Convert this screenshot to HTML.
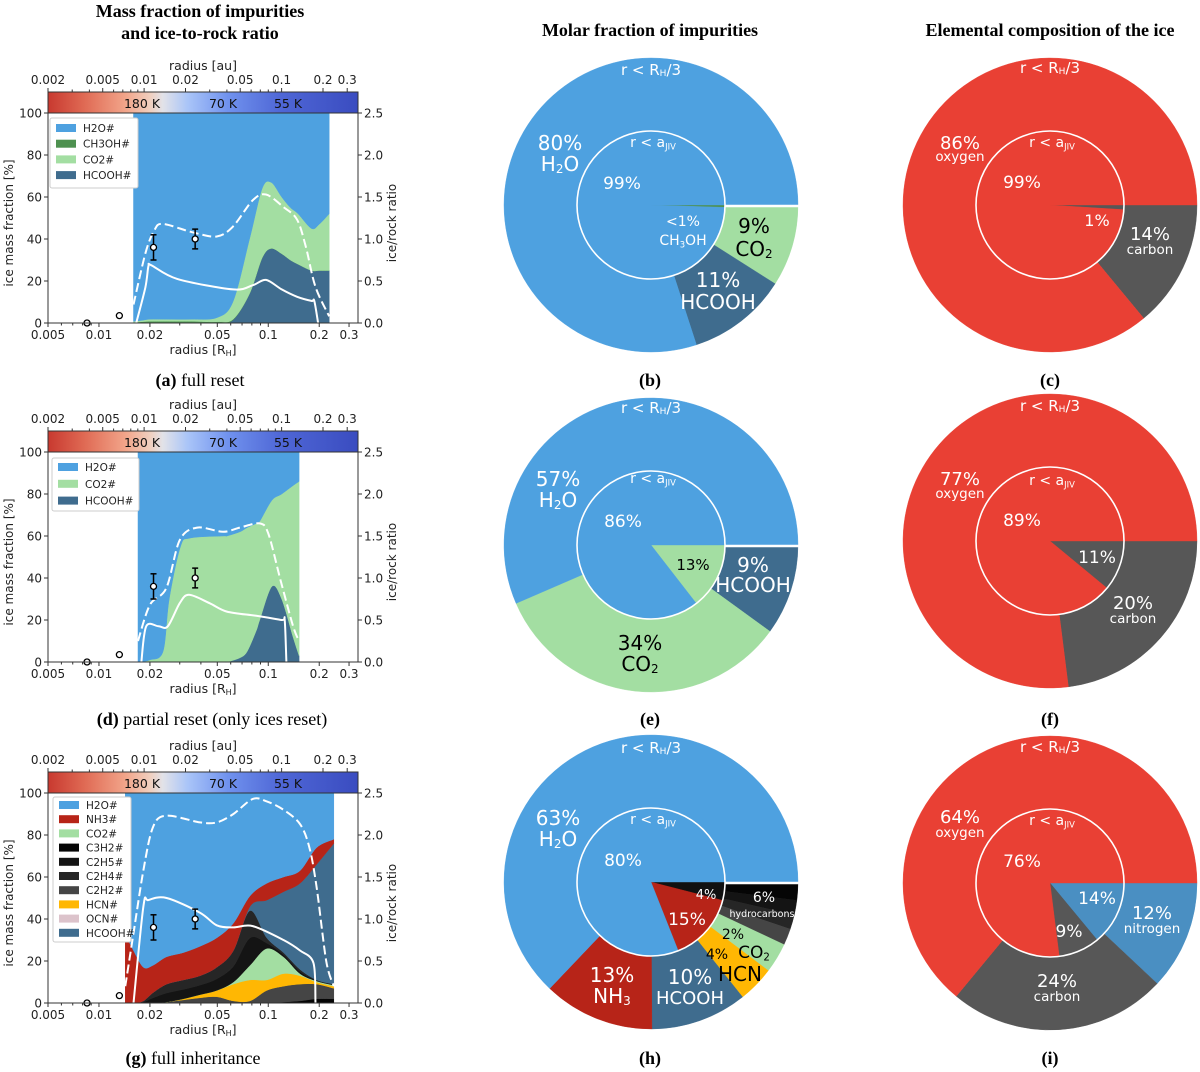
<!DOCTYPE html>
<html><head><meta charset="utf-8">
<style>
html,body{margin:0;padding:0;background:#fff;}
svg{display:block;}
text{font-family:"DejaVu Sans","Liberation Sans",sans-serif;}
.serif{font-family:"Liberation Serif",serif;}
</style></head>
<body>
<svg id="fig" xmlns="http://www.w3.org/2000/svg" width="1200" height="1072" viewBox="0 0 1200 1072">
<defs>
<linearGradient id="cbar" x1="0" x2="1" y1="0" y2="0">
<stop offset="0" stop-color="#c8392f"/><stop offset="0.12" stop-color="#e06b55"/><stop offset="0.25" stop-color="#f2a58a"/><stop offset="0.33" stop-color="#f0cfbf"/><stop offset="0.37" stop-color="#e2e2e8"/><stop offset="0.45" stop-color="#aac5f8"/><stop offset="0.58" stop-color="#7092ee"/><stop offset="0.75" stop-color="#4f67d6"/><stop offset="1" stop-color="#3a4cc0"/>
</linearGradient>
</defs>
<g id="titles">
<text class="serif" x="200" y="17" font-size="18" font-weight="bold" text-anchor="middle">Mass fraction of impurities</text>
<text class="serif" x="200" y="39" font-size="18" font-weight="bold" text-anchor="middle">and ice-to-rock ratio</text>
<text class="serif" x="650" y="36" font-size="18" font-weight="bold" text-anchor="middle">Molar fraction of impurities</text>
<text class="serif" x="1050" y="36" font-size="18" font-weight="bold" text-anchor="middle">Elemental composition of the ice</text>
<text class="serif" x="200" y="386" font-size="18" text-anchor="middle"><tspan font-weight="bold">(a)</tspan> full reset</text>
<text class="serif" x="650" y="386" font-size="18" font-weight="bold" text-anchor="middle">(b)</text>
<text class="serif" x="1050" y="386" font-size="18" font-weight="bold" text-anchor="middle">(c)</text>
<text class="serif" x="212" y="725" font-size="18" text-anchor="middle"><tspan font-weight="bold">(d)</tspan> partial reset (only ices reset)</text>
<text class="serif" x="650" y="725" font-size="18" font-weight="bold" text-anchor="middle">(e)</text>
<text class="serif" x="1050" y="725" font-size="18" font-weight="bold" text-anchor="middle">(f)</text>
<text class="serif" x="193" y="1064" font-size="18" text-anchor="middle"><tspan font-weight="bold">(g)</tspan> full inheritance</text>
<text class="serif" x="650" y="1064" font-size="18" font-weight="bold" text-anchor="middle">(h)</text>
<text class="serif" x="1050" y="1064" font-size="18" font-weight="bold" text-anchor="middle">(i)</text>
</g>
</svg>
<script>
// ---------- Observations ----------
const obsR = [0.0085, 0.0132, 0.021, 0.037];
const obsV = [0, 3.5, 36, 40];
const obsErr = [0, 0, 6, 4.7];
// ---------- Panel a ----------
const aR = [0.016,0.018,0.02,0.025,0.035,0.05,0.062,0.0775,0.092,0.104,0.12,0.135,0.15,0.18,0.2,0.229];
const aHCOOH = [0,0,0,0,0,0,1.5,14,31,35.5,33,30,28,25,25,25];
const aCH3OH = [0.3,0.6,0.8,0.8,0.8,0.6,0.3,0,0,0,0,0,0,0,0,0];
const aCO2 = [0.5,0.7,1,1,1,2,8.5,26,33,31.5,27,25,24,20,22,27];
const aH2O = [99.2,98.7,98.2,98.2,98.2,97.4,89.7,60,36,33,40,45,48,55,53,48];
const aDashR = [0.016,0.0188,0.0212,0.0238,0.0357,0.0496,0.062,0.0808,0.097,0.123,0.148,0.167,0.19,0.229];
const aDashV = [0.22,0.83,1.1,1.18,1.08,1.03,1.15,1.46,1.53,1.38,1.23,0.9,0.43,0.08];
const aSolR = [0.0166,0.0188,0.0196,0.0204,0.029,0.062,0.081,0.097,0.12,0.148,0.18,0.187,0.197];
const aSolV = [0,17,27,27.5,21,16,18,20.5,16,12.5,10.5,10.5,0];
// ---------- Panel d ----------
const dR = [0.017,0.02,0.0239,0.026,0.0303,0.0345,0.054,0.057,0.068,0.075,0.085,0.089,0.105,0.12,0.14,0.152];
const dHCOOH = [0,0,0,0,0,0,0,0,2,5,15,20,36,30,12,3];
const dCO2 = [0,1,5,30,55,59,60,60,60,59,51,47,41,50,72,83];
const dH2O = [100,99,95,70,45,41,40,40,38,36,34,33,23,20,16,14];
const dDashR = [0.017,0.02,0.025,0.03,0.038,0.054,0.068,0.089,0.1,0.118,0.14,0.152];
const dDashV = [0.25,0.68,0.88,1.45,1.6,1.55,1.6,1.65,1.53,0.98,0.43,0.25];
const dSolR = [0.0178,0.019,0.0225,0.0255,0.03,0.034,0.045,0.057,0.085,0.12,0.125,0.128];
const dSolV = [0,17,17,17,28,32,28,24,22,20,20,0];
// ---------- Panel g ----------
const gR = [0.0143,0.016,0.0183,0.0209,0.0251,0.0315,0.0395,0.0496,0.0622,0.078,0.098,0.123,0.154,0.193,0.244];
const gC3H2 = [0,0,0,0,0,0,0,0,0,0,0,0.5,1,2,2];
const gC2H2 = [0,0,0,0,0.5,1.5,2.5,3,1,1,6,7.5,8,7,5];
const gHCN = [0,0,0,0,0,0.5,1.5,3,8,10,5,6,4,1,1];
const gCO2 = [0,0,0,0,0,0,0,0,1,7,15,8,1,0.5,0.5];
const gC2H5 = [0,0,0.5,2.5,4.25,4.5,4.5,5.5,7.5,13,2.5,1,1,0.25,0.25];
const gC2H4 = [0,0,0.5,2.5,4.25,4.5,4.5,5.5,7.5,13,2.5,1,1,0.25,0.25];
const gHCOOH = [0,0,0,0,0,0,0,0,0,2,18,29,41,55,67];
const gNH3 = [33,25,16,13,13,13,14,14,13,5,8,7,6,8,2];
const gH2O = [67,75,83,82,78,76,73,69,62,49,43,40,37,26,22];
const gDashR = [0.0143,0.016,0.0183,0.0209,0.0251,0.0395,0.0496,0.0622,0.081,0.098,0.123,0.154,0.175,0.193,0.22,0.244];
const gDashV = [0.2,0.83,1.58,2.1,2.23,2.15,2.15,2.25,2.43,2.4,2.3,2.13,1.85,1.38,0.5,0.2];
const gSolR = [0.016,0.0183,0.0196,0.0251,0.0395,0.0496,0.0622,0.081,0.123,0.154,0.185,0.19];
const gSolV = [0,46,49,50,43,37,36,36.6,30,25,19,0];
// ---------- Pies ----------
const bOuterLabels = ["CO2","HCOOH","H2O"]; const bOuter = [9,11,80];
const bInnerLabels = ["CH3OH","H2O"]; const bInner = [0.5,99.5];
const cOuterLabels = ["carbon","oxygen"]; const cOuter = [14,86];
const cInnerLabels = ["carbon","oxygen"]; const cInner = [1,99];
const eOuterLabels = ["HCOOH","CO2","H2O"]; const eOuter = [10,33.5,56.5];
const eInnerLabels = ["CO2","H2O"]; const eInner = [14.5,85.5];
const fOuterLabels = ["carbon","oxygen"]; const fOuter = [23,77];
const fInnerLabels = ["carbon","oxygen"]; const fInner = [11,89];
const hOuterLabels = ["C3H2","C2H5","C2H4","C2H2","CO2","HCN","HCOOH","NH3","H2O"]; const hOuter = [2,1.6,1.6,1.8,3.3,4,10.6,12.2,62.9];
const hInnerLabels = ["hydrocarbons","NH3","H2O"]; const hInner = [4,15,81];
const iOuterLabels = ["nitrogen","carbon","oxygen"]; const iOuter = [12,24,64];
const iInnerLabels = ["nitrogen","carbon","oxygen"]; const iInner = [14,9,77];

const COL = {H2O:"#4ea1e0",CH3OH:"#4e9150",CO2:"#a3dea2",HCOOH:"#3f6c8e",NH3:"#b72418",C3H2:"#050505",C2H5:"#141414",C2H4:"#262626",C2H2:"#454545",HCN:"#ffb703",OCN:"#dcc3cb",hydrocarbons:"#111111",oxygen:"#e94034",carbon:"#575757",nitrogen:"#4a8fc2"};

const NS="http://www.w3.org/2000/svg";
const svg=document.getElementById('fig');
function mk(tag,attrs,parent){const e=document.createElementNS(NS,tag);for(const k in attrs)e.setAttribute(k,attrs[k]);(parent||svg).appendChild(e);return e;}
function txt(x,y,s,size,anchor,parent,fill){const t=mk('text',{x:x,y:y,'font-size':size,'text-anchor':anchor||'middle',fill:fill||'#000'},parent);t.textContent=s;return t;}

const X0=48,X1=358,PXD=169.3;
function rx(r){return X0+(Math.log10(r)-Math.log10(0.005))*PXD;}
function auX(a){return X0+(Math.log10(a)-Math.log10(0.002))*137.5;}
// smooth curve segments through points (Catmull-Rom -> bezier), returns path continuing from pts[0]
function smoothSeg(pts){
  let d='';
  for(let i=0;i<pts.length-1;i++){
    const p0=pts[Math.max(i-1,0)],p1=pts[i],p2=pts[i+1],p3=pts[Math.min(i+2,pts.length-1)];
    const t=0.16;
    const c1=[p1[0]+(p2[0]-p0[0])*t,p1[1]+(p2[1]-p0[1])*t];
    const c2=[p2[0]-(p3[0]-p1[0])*t,p2[1]-(p3[1]-p1[1])*t];
    d+='C'+c1[0].toFixed(1)+','+c1[1].toFixed(1)+' '+c2[0].toFixed(1)+','+c2[1].toFixed(1)+' '+p2[0].toFixed(1)+','+p2[1].toFixed(1);
  }
  return d;
}

function drawPanel(id,top,R,layers,dashR,dashV,solR,solV,legendRows,legendBox){
  const g=mk('g',{});
  
  
  const yv=v=>top+210-v*2.1;
  let base=R.map(()=>0);
  layers.forEach(L=>{
    const tops=base.map((b,i)=>b+L.v[i]);
    const up=R.map((r,i)=>[rx(r),yv(tops[i])]);
    const dn=R.map((r,i)=>[rx(r),yv(base[i])]).reverse();
    const d='M'+up[0][0].toFixed(1)+','+up[0][1].toFixed(1)+smoothSeg(up)+'L'+dn[0][0].toFixed(1)+','+dn[0][1].toFixed(1)+smoothSeg(dn)+'Z';
    const p=mk('path',{d:d,fill:COL[L.n],stroke:COL[L.n],'stroke-width':0.5},g);
    
    
    base=tops;
  });
  const dp=dashR.map((r,i)=>[rx(r),yv(dashV[i]*40)]);
  const dl=mk('path',{d:'M'+dp[0][0]+','+dp[0][1]+smoothSeg(dp),fill:'none',stroke:'#fff','stroke-width':2,'stroke-dasharray':'9,4'},g);
  
  
  const sp=solR.map((r,i)=>[rx(r),yv(solV[i])]);
  const sl=mk('path',{d:'M'+sp[0][0]+','+sp[0][1]+smoothSeg(sp),fill:'none',stroke:'#fff','stroke-width':2},g);
  
  
  obsR.forEach((r,i)=>{
    const x=rx(r),y=yv(obsV[i]);
    if(obsErr[i]>0){
      const e1=yv(obsV[i]+obsErr[i]),e2=yv(obsV[i]-obsErr[i]);
      mk('line',{x1:x,x2:x,y1:e1,y2:e2,stroke:'#000','stroke-width':1.5},g);
      mk('line',{x1:x-3,x2:x+3,y1:e1,y2:e1,stroke:'#000','stroke-width':1.5},g);
      mk('line',{x1:x-3,x2:x+3,y1:e2,y2:e2,stroke:'#000','stroke-width':1.5},g);
    }
    const c=mk('circle',{cx:x,cy:y,r:3,fill:'#fff',stroke:'#000','stroke-width':1.3},g);
    
    
  });
  mk('rect',{x:X0,y:top,width:X1-X0,height:210,fill:'none',stroke:'#333','stroke-width':1},g);
  const cb=mk('rect',{x:X0,y:top-21,width:X1-X0,height:21,fill:'url(#cbar)',stroke:'#333','stroke-width':1},g);
  
  
  [["180 K",142],["70 K",223],["55 K",288]].forEach(t=>{txt(t[1],top-5,t[0],12.5,'middle',g,'#111');});
  const maj=[0.005,0.01,0.02,0.05,0.1,0.2,0.3];
  const majL=["0.005","0.01","0.02","0.05","0.1","0.2","0.3"];
  maj.forEach((m,i)=>{const x=rx(m);mk('line',{x1:x,x2:x,y1:top+210,y2:top+214,stroke:'#333'},g);txt(x,top+226,majL[i],12,'middle',g,'#222');});
  [0.006,0.007,0.008,0.009,0.03,0.04,0.06,0.07,0.08,0.09].forEach(m=>{const x=rx(m);mk('line',{x1:x,x2:x,y1:top+210,y2:top+212.5,stroke:'#333'},g);});
  const xl=txt(203,top+241,'radius [R',12.5,'middle',g,'#222');
  const sub=mk('tspan',{'font-size':8,dy:2},xl);sub.textContent='H';
  const sub2=mk('tspan',{dy:-2},xl);sub2.textContent=']';
  
  
  const am=[0.002,0.005,0.01,0.02,0.05,0.1,0.2,0.3];
  const amL=["0.002","0.005","0.01","0.02","0.05","0.1","0.2","0.3"];
  am.forEach((m,i)=>{const x=auX(m);mk('line',{x1:x,x2:x,y1:top-21,y2:top-25,stroke:'#333'},g);txt(x,top-29,amL[i],12,'middle',g,'#222');});
  [0.003,0.004,0.006,0.007,0.008,0.009,0.03,0.04,0.06,0.07,0.08,0.09].forEach(m=>{const x=auX(m);mk('line',{x1:x,x2:x,y1:top-21,y2:top-23.5,stroke:'#333'},g);});
  const tl=txt(203,top-43,'radius [au]',12.5,'middle',g,'#222');
  
  
  [0,20,40,60,80,100].forEach(v=>{const y=yv(v);mk('line',{x1:X0,x2:X0-4,y1:y,y2:y,stroke:'#333'},g);txt(X0-6,y+4.5,String(v),12,'end',g,'#222');});
  ["0.0","0.5","1.0","1.5","2.0","2.5"].forEach((s,i)=>{const y=yv(i*20);mk('line',{x1:X1,x2:X1+4,y1:y,y2:y,stroke:'#333'},g);txt(X1+6,y+4.5,s,12,'start',g,'#222');});
  const yl=txt(0,0,'ice mass fraction [%]',12,'middle',g,'#222');
  yl.setAttribute('transform','translate(13,'+(top+110)+') rotate(-90)');
  
  
  const yr=txt(0,0,'ice/rock ratio',12,'middle',g,'#222');
  yr.setAttribute('transform','translate(396,'+(top+110)+') rotate(-90)');
  
  
  const lg=mk('g',{},g);
  
  
  mk('rect',{x:legendBox[0],y:legendBox[1],width:legendBox[2],height:legendBox[3],fill:'#fff',stroke:'#ccc','stroke-width':1,rx:2},lg);
  legendRows.forEach((n,i)=>{
    const y=legendBox[1]+legendBox[4]+i*legendBox[5];
    const p=mk('rect',{x:legendBox[0]+6,y:y-4,width:20,height:8,fill:COL[n]},lg);
    
    
    txt(legendBox[0]+33,y+4,n+'#',10.5,'start',lg,'#222');
  });
}

drawPanel('panel-a',113,aR,[{n:'HCOOH',v:aHCOOH},{n:'CH3OH',v:aCH3OH},{n:'CO2',v:aCO2},{n:'H2O',v:aH2O}],aDashR,aDashV,aSolR,aSolV,['H2O','CH3OH','CO2','HCOOH'],[50,118,88,70,10,15.7]);
drawPanel('panel-d',452,dR,[{n:'HCOOH',v:dHCOOH},{n:'CO2',v:dCO2},{n:'H2O',v:dH2O}],dDashR,dDashV,dSolR,dSolV,['H2O','CO2','HCOOH'],[52,458,87,53,9,16.8]);
drawPanel('panel-g',793,gR,[{n:'C3H2',v:gC3H2},{n:'C2H2',v:gC2H2},{n:'HCN',v:gHCN},{n:'CO2',v:gCO2},{n:'C2H5',v:gC2H5},{n:'C2H4',v:gC2H4},{n:'HCOOH',v:gHCOOH},{n:'NH3',v:gNH3},{n:'H2O',v:gH2O}],gDashR,gDashV,gSolR,gSolV,['H2O','NH3','CO2','C3H2','C2H5','C2H4','C2H2','HCN','OCN','HCOOH'],[53,797,78,145,8,14.2]);

function wedge(cx,cy,r,a0,a1){
  const t0=a0*Math.PI/180,t1=a1*Math.PI/180;
  const large=(a1-a0)>180?1:0;
  return 'M'+cx+','+cy+'L'+(cx+r*Math.cos(t0)).toFixed(2)+','+(cy+r*Math.sin(t0)).toFixed(2)+'A'+r+','+r+' 0 '+large+' 1 '+(cx+r*Math.cos(t1)).toFixed(2)+','+(cy+r*Math.sin(t1)).toFixed(2)+'Z';
}
function pie(id,cx,cy,outV,outN,inV,inN,gap){
  const g=mk('g',{});
  
  
  [[outV,outN,147,'outer'],[inV,inN,74,'inner']].forEach(ring=>{
    const s=ring[0].reduce((a,b)=>a+b,0);let a=0;
    ring[0].forEach((v,i)=>{
      const a1=a+v/s*360;
      const p=mk('path',{d:wedge(cx,cy,ring[2],a,a1),fill:COL[ring[1][i]],stroke:COL[ring[1][i]],'stroke-width':0.4},g);
      
      
      a=a1;
    });
  });
  if(gap) mk('line',{x1:cx+74,y1:cy+1,x2:cx+148,y2:cy+1,stroke:'#fff','stroke-width':2.5},g);
  mk('circle',{cx:cx,cy:cy,r:74,fill:'none',stroke:'#fff','stroke-width':1.6},g);
  return g;
}
const pb=pie('panel-b',651,205,bOuter,bOuterLabels,bInner,bInnerLabels,true);
const pc=pie('panel-c',1050,205,cOuter,cOuterLabels,cInner,cInnerLabels,false);
const pe=pie('panel-e',651,545,eOuter,eOuterLabels,eInner,eInnerLabels,true);
const pf=pie('panel-f',1050,541,fOuter,fOuterLabels,fInner,fInnerLabels,false);
const ph=pie('panel-h',651,882,hOuter,hOuterLabels,hInner,hInnerLabels,true);
const pi=pie('panel-i',1050,883,iOuter,iOuterLabels,iInner,iInnerLabels,false);

function lab(g,x,y,s,size,fill){
  const t=mk('text',{x:x,y:y,'font-size':size,'text-anchor':'middle','dominant-baseline':'central',fill:fill||'#fff'},g);
  const parts=s.split(/(_\{[^}]*\})/);
  parts.forEach(p=>{
    if(!p)return;
    if(p.startsWith('_{')){const ts=mk('tspan',{'font-size':size*0.6,dy:size*0.25},t);ts.textContent=p.slice(2,-1);const back=mk('tspan',{dy:-size*0.25},t);back.textContent='\u200b';}
    else{const ts=mk('tspan',{},t);ts.textContent=p;}
  });
  return t;
}
function ringLabels(g,cx,cy,ys){
  lab(g,cx,ys[0],'r < R_{H}/3',15);
  lab(g,cx+2,ys[1],'r < a_{JIV}',14);
}
ringLabels(pb,651,205,[70,143]);
lab(pb,560,143,'80%',20);lab(pb,560,164,'H_{2}O',20);
lab(pb,622,184,'99%',17);lab(pb,683,222,'<1%',14);lab(pb,683,241,'CH_{3}OH',14);
lab(pb,754,226,'9%',20,'#000');lab(pb,754,249,'CO_{2}',20,'#000');
lab(pb,718,280,'11%',20);lab(pb,718,302,'HCOOH',20);
ringLabels(pc,1050,205,[68,143]);
lab(pc,960,143,'86%',18);lab(pc,960,157,'oxygen',13.5);
lab(pc,1022,183,'99%',17);lab(pc,1097,220,'1%',16);
lab(pc,1150,234,'14%',18);lab(pc,1150,250,'carbon',13.5);
ringLabels(pe,651,545,[408,479]);
lab(pe,558,479,'57%',20);lab(pe,558,500,'H_{2}O',20);
lab(pe,623,522,'86%',17);lab(pe,693,565,'13%',15,'#000');
lab(pe,753,565,'9%',20);lab(pe,753,585,'HCOOH',20);
lab(pe,640,643,'34%',20,'#000');lab(pe,640,664,'CO_{2}',20,'#000');
ringLabels(pf,1050,541,[406,481]);
lab(pf,960,479,'77%',18);lab(pf,960,494,'oxygen',13.5);
lab(pf,1022,521,'89%',17);lab(pf,1097,558,'11%',17);
lab(pf,1133,603,'20%',18);lab(pf,1133,619,'carbon',13.5);
ringLabels(ph,651,882,[748,820]);
lab(ph,558,818,'63%',20);lab(ph,558,839,'H_{2}O',20);
lab(ph,623,861,'80%',17);lab(ph,706,895,'4%',13);lab(ph,687,920,'15%',17);
lab(ph,764,898,'6%',14);lab(ph,762,914,'hydrocarbons',9.5);
lab(ph,733,935,'2%',14,'#000');lab(ph,754,953,'CO_{2}',17,'#000');
lab(ph,717,955,'4%',14,'#000');lab(ph,740,974,'HCN',20,'#000');
lab(ph,690,977,'10%',20);lab(ph,690,998,'HCOOH',18);
lab(ph,612,975,'13%',20);lab(ph,612,996,'NH_{3}',20);
ringLabels(pi,1050,883,[747,821]);
lab(pi,960,817,'64%',18);lab(pi,960,833,'oxygen',13.5);
lab(pi,1022,862,'76%',17);lab(pi,1097,899,'14%',17);
lab(pi,1152,913,'12%',18);lab(pi,1152,929,'nitrogen',13.5);
lab(pi,1069,932,'9%',17);lab(pi,1057,981,'24%',18);lab(pi,1057,997,'carbon',13.5);
</script>
</body></html>
